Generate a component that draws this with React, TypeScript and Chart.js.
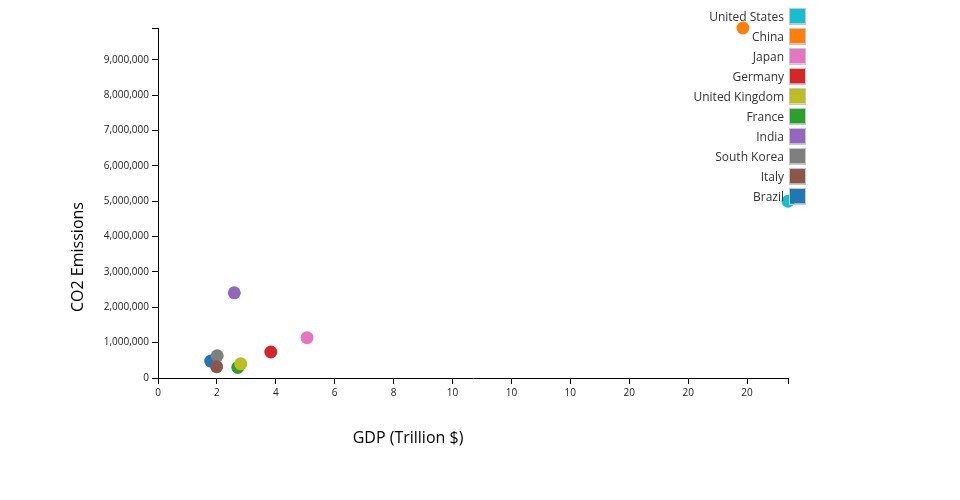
import React, { useEffect, useRef } from "react";
import { Chart, registerables } from "chart.js";

Chart.register(...registerables);

const countries = ["United States", "China", "Japan", "Germany", "United Kingdom", "France", "India", "South Korea", "Italy", "Brazil"];
const gdp = [21.39, 19.86, 5.06, 3.83, 2.81, 2.71, 2.59, 2.01, 1.99, 1.79];
const co2 = [5000000, 9900000, 1140000, 735000, 400000, 300000, 2410000, 630000, 320000, 480000];
const colors = ["#17becf", "#ff7f0e", "#e377c2", "#d62728", "#bcbd22", "#2ca02c", "#9467bd", "#7f7f7f", "#8c564b", "#1f77b4"];
const drawOrder = [0, 0, 0, 0, 0, 0, 0, 1, 0, 2];
const xTickValues = [0, 2, 4, 6, 8, 10, 12, 14, 16, 18, 20];
const xTickLabels = ["0", "2", "4", "6", "8", "10", "10", "10", "20", "20", "20"];
const yTickValues = [0, 1000000, 2000000, 3000000, 4000000, 5000000, 6000000, 7000000, 8000000, 9000000];
const yTickLabels = ["0", "1,000,000", "2,000,000", "3,000,000", "4,000,000", "5,000,000", "6,000,000", "7,000,000", "8,000,000", "9,000,000"];
const xTitle = "GDP (Trillion $)";
const yTitle = "CO2 Emissions";

const FONT = "'Open Sans', sans-serif";

const overlay = {
  id: "overlay",
  afterDraw(chart: any) {
    const ctx = chart.ctx;
    ctx.save();
    ctx.fillStyle = "#000";
    ctx.font = `16px ${FONT}`;
    ctx.textAlign = "center";
    ctx.textBaseline = "middle";
    ctx.fillText(xTitle, 408, 438);
    ctx.save();
    ctx.translate(78, 257);
    ctx.rotate(-Math.PI / 2);
    ctx.fillText(yTitle, 0, 0);
    ctx.restore();
    ctx.font = `12px ${FONT}`;
    ctx.textAlign = "right";
    ctx.textBaseline = "middle";
    countries.forEach((c, i) => {
      const top = 8 + i * 20;
      ctx.fillStyle = colors[i];
      ctx.fillRect(790, top + 0.5, 15, 15);
      ctx.strokeStyle = "#c8c8c8";
      ctx.lineWidth = 1;
      ctx.strokeRect(789.5, top + 0.5, 16, 16);
      ctx.fillStyle = "#333";
      ctx.fillText(c, 784, top + 9.5);
    });
    ctx.restore();
  },
};

export default function App() {
  const ref = useRef<HTMLCanvasElement>(null);
  useEffect(() => {
    document.body.style.margin = "0";
    const xMax = Math.max(...gdp);
    const yMax = Math.max(...co2);
    const chart = new Chart(ref.current as HTMLCanvasElement, {
      type: "scatter",
      data: {
        datasets: countries.map((c, i) => ({
          label: c,
          data: [{ x: gdp[i], y: co2[i] }],
          backgroundColor: colors[i],
          borderWidth: 0,
          pointRadius: 6.5,
          pointHoverRadius: 6.5,
          order: drawOrder[i],
          clip: false as any,
        })),
      },
      options: {
        animation: false,
        responsive: false,
        events: [],
        layout: { padding: { top: 28, right: 172, left: 0, bottom: 0 } },
        plugins: { legend: { display: false }, tooltip: { enabled: false } },
        scales: {
          x: {
            type: "linear",
            min: 0,
            max: xMax,
            afterFit: (s: any) => { s.height = 122; },
            afterBuildTicks: (s: any) => {
              s.ticks = [...xTickValues.map((v) => ({ value: v })), { value: xMax }];
            },
            ticks: {
              autoSkip: false,
              maxRotation: 0,
              padding: 3,
              color: "#222",
              font: { family: FONT, size: 10 },
              callback: (v: any, i: number) => (i < xTickLabels.length ? xTickLabels[i] : ""),
            },
            grid: { drawOnChartArea: false, drawTicks: true, tickLength: 6, color: "#000" },
            border: { display: true, color: "#000" },
          },
          y: {
            type: "linear",
            min: 0,
            max: yMax,
            afterFit: (s: any) => { s.width = 158; },
            afterBuildTicks: (s: any) => {
              s.ticks = [...yTickValues.map((v) => ({ value: v })), { value: yMax }];
            },
            ticks: {
              autoSkip: false,
              padding: 3,
              color: "#222",
              font: { family: FONT, size: 10 },
              callback: (v: any, i: number) => (i < yTickLabels.length ? yTickLabels[i] : ""),
            },
            grid: { drawOnChartArea: false, drawTicks: true, tickLength: 6, color: "#000" },
            border: { display: true, color: "#000" },
          },
        },
      },
      plugins: [overlay],
    });
    return () => chart.destroy();
  }, []);
  return (
    <div style={{ position: "absolute", left: 0, top: 0, width: 960, height: 500 }}>
      <canvas ref={ref} width={960} height={500} style={{ width: 960, height: 500 }} />
    </div>
  );
}
